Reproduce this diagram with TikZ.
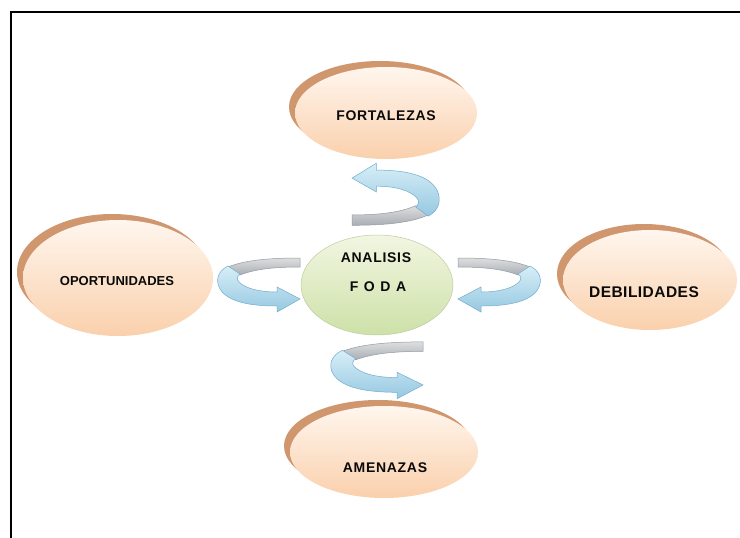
\documentclass[tikz,border=0pt]{standalone}
\usepackage{fontspec}
\setmainfont{Liberation Sans}
\usetikzlibrary{shapes.geometric,shadows}
\definecolor{peachtop}{RGB}{255,246,238}
\definecolor{peachbot}{RGB}{250,208,172}
\definecolor{rimbrown}{RGB}{208,150,110}
\definecolor{greentop}{RGB}{242,246,226}
\definecolor{greenbot}{RGB}{205,225,168}
\definecolor{greenline}{RGB}{190,205,160}
\definecolor{bluetop}{RGB}{215,238,247}
\definecolor{bluebot}{RGB}{150,200,225}
\definecolor{blueline}{RGB}{115,172,205}
\definecolor{graytop}{RGB}{222,222,222}
\definecolor{graybot}{RGB}{168,174,180}
\definecolor{grayline}{RGB}{145,155,165}
\definecolor{txt}{RGB}{10,10,10}
\tikzset{
  oval/.style={ellipse, inner sep=0pt, top color=peachtop, bottom color=peachbot,
    general shadow={fill=rimbrown, shadow xshift=-6pt, shadow yshift=6pt}},
  core/.style={ellipse, inner sep=0pt, top color=greentop, bottom color=greenbot, draw=greenline, line width=0.5pt},
  lbl/.style={text=txt, inner sep=0pt, font=\bfseries\fontsize{14}{16}\selectfont\addfontfeature{LetterSpace=5}},
  backband/.style={top color=graytop, bottom color=graybot, draw=grayline, line width=0.5pt},
  frontband/.style={top color=bluetop, bottom color=bluebot, draw=blueline, line width=0.5pt},
  ribbon/.pic={
    \path[backband] (0,-22) .. controls (-30,-22) and (-55,-20) .. (-72,-13)
      -- (-60,-5) .. controls (-45,-11) and (-25,-13) .. (0,-13) -- cycle;
    \path[frontband] (-72,-14) .. controls (-82,-9) and (-85,0) .. (-80,9)
      .. controls (-72,22) and (-50,26) .. (-23,26) -- (-23,32) -- (0,19) -- (-23,7) -- (-23,12)
      .. controls (-42,12) and (-55,8) .. (-61,2) .. controls (-64,-1) and (-63,-4) .. (-60,-6) -- cycle;
  }
}
\begin{document}
\begin{tikzpicture}[x=1pt,y=-1pt]
\useasboundingbox (0,0) rectangle (740,538);
\fill[white] (0,0) rectangle (740,538);
\coordinate (fl) at (11,538);
\coordinate (fc) at (11,12);
\coordinate (fr) at (740,12);
\draw[line width=1.6pt, line cap=rect] (fl) -- (fc) -- (fr);

% outer ovals
\node[oval, minimum width=182pt, minimum height=92pt] (fort) at (386,113) {};
\node[lbl] (fortT) at (386,116) {FORTALEZAS};
\node[oval, minimum width=190pt, minimum height=116pt] (opor) at (118,278) {};
\node[lbl, font=\bfseries\fontsize{13}{15}\selectfont] (oporT) at (117,281) {OPORTUNIDADES};
\node[oval, minimum width=174pt, minimum height=100pt] (debi) at (650,280) {};
\node[lbl, font=\bfseries\fontsize{15.5}{17}\selectfont\addfontfeature{LetterSpace=3}] (debiT) at (644,292) {DEBILIDADES};
\node[oval, minimum width=188pt, minimum height=92pt] (amen) at (384,452) {};
\node[lbl] (amenT) at (385,468) {AMENAZAS};

% centre
\node[core, minimum width=152pt, minimum height=100pt] (foda) at (377,285) {};
\node[lbl] (anT) at (376,258) {ANALISIS};
\node[lbl, font=\bfseries\fontsize{14}{16}\selectfont\addfontfeature{LetterSpace=40}] (fodaT) at (378,287) {FODA};

% curved ribbon arrows
\pic at (300,280) {ribbon};
\pic[xscale=-1] at (458,280) {ribbon};
\pic[xscale=1.12, yscale=1.05] at (423,365) {ribbon};
\pic[rotate=180, xscale=1.06, yscale=1.15] at (352,200) {ribbon};
\end{tikzpicture}
\end{document}
